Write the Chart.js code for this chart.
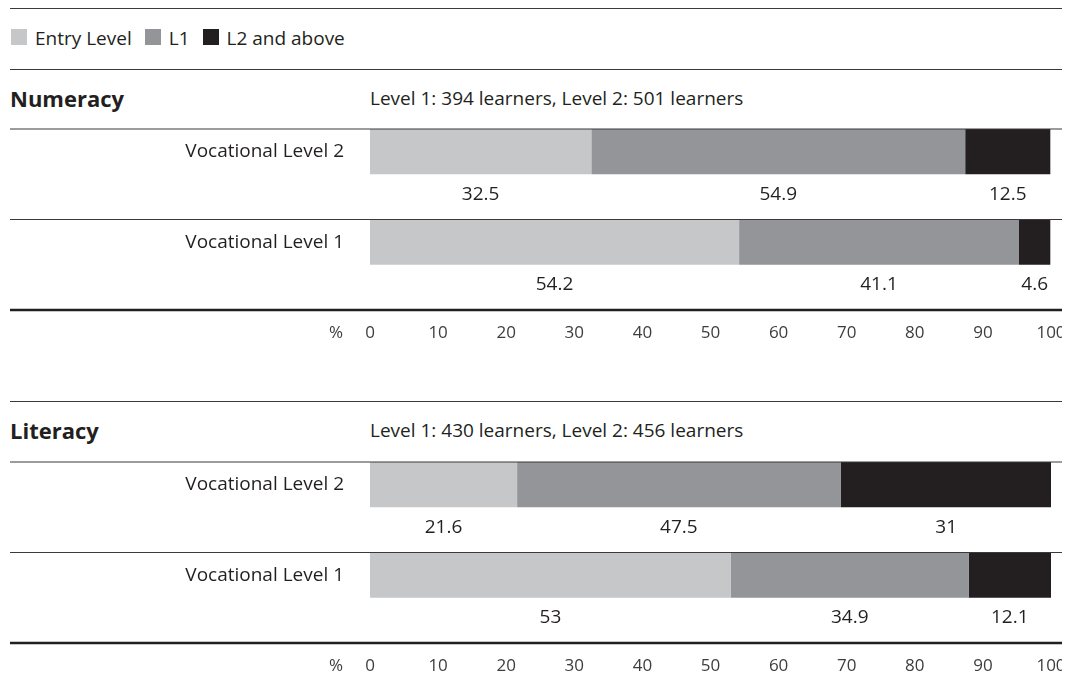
<!DOCTYPE html>
<html>
<head>
<meta charset="utf-8">
<script src="https://cdn.jsdelivr.net/npm/chart.js@4.4.0/dist/chart.umd.min.js"></script>
<style>
body { margin: 0; background: #fff; font-family: "Open Sans", sans-serif; color: #231f20; }
.page { position: relative; width: 1077px; height: 676px; overflow: hidden; }
.rule { position: absolute; left: 10px; width: 1052px; height: 0; border-top: 1px solid #3a3a3a; }
.legend { position: absolute; left: 11px; top: 28px; height: 20px; display: flex; align-items: center; font-size: 19px; line-height: 20px; }
.legend .item { display: flex; align-items: center; margin-right: 13px; }
.legend .box { width: 16px; height: 16px; display: inline-block; margin-right: 8px; position: relative; top: -1px; }
.title { position: absolute; left: 10px; font-size: 22px; font-weight: bold; line-height: 24px; }
.sub { position: absolute; left: 370px; font-size: 19px; line-height: 20px; }
.panel { position: absolute; left: 10px; width: 1052px; height: 223px; }
</style>
</head>
<body>
<div class="page">
  <div class="rule" style="top:8px"></div>
  <div class="legend" id="legend"></div>
  <div class="rule" style="top:69px"></div>

  <div class="title" style="top:86px">Numeracy</div>
  <div class="sub" style="top:88px">Level 1: 394 learners, Level 2: 501 learners</div>
  <div class="panel" style="top:127px"><canvas id="numeracyChart"></canvas></div>

  <div class="rule" style="top:401px"></div>
  <div class="title" style="top:418px">Literacy</div>
  <div class="sub" style="top:420px">Level 1: 430 learners, Level 2: 456 learners</div>
  <div class="panel" style="top:460px"><canvas id="literacyChart"></canvas></div>
</div>

<script>
// Data (% of learners)
const rowLabels = ['Vocational Level 2', 'Vocational Level 1'];
const seriesNames = ['Entry Level', 'L1', 'L2 and above'];
const seriesColors = ['#c6c7c9', '#939598', '#231f20'];
const xTicks = [0, 10, 20, 30, 40, 50, 60, 70, 80, 90, 100];

const numeracyEntry = [32.5, 54.2];
const numeracyL1 = [54.9, 41.1];
const numeracyL2 = [12.5, 4.6];

const literacyEntry = [21.6, 53];
const literacyL1 = [47.5, 34.9];
const literacyL2 = [31, 12.1];

const FONT = '"Open Sans", sans-serif';

// legend built from the series
document.getElementById('legend').innerHTML = seriesNames.map((name, i) =>
    `<span class="item"><span class="box" style="background:${seriesColors[i]}"></span>${name}</span>`
).join('');

// row rules, axis rule, value labels and the % sign
const panelDecor = {
    id: 'panelDecor',
    afterDatasetsDraw(chart) {
        const { ctx, scales: { x, y } } = chart;
        const w = chart.width;
        ctx.save();

        function rule(py, lw, color) {
            ctx.beginPath();
            ctx.lineWidth = lw;
            ctx.strokeStyle = color;
            ctx.moveTo(0, py);
            ctx.lineTo(w, py);
            ctx.stroke();
        }
        rowLabels.forEach((_, i) => rule(y.getPixelForValue(i), 1.2, '#3a3a3a'));
        rule(y.getPixelForValue(rowLabels.length), 2.5, '#231f20');

        ctx.fillStyle = '#231f20';
        ctx.font = '19px ' + FONT;
        ctx.textAlign = 'center';
        ctx.textBaseline = 'middle';
        chart.data.datasets.forEach((ds, d) => {
            chart.getDatasetMeta(d).data.forEach((bar, i) => {
                const cx = (bar.x + bar.base) / 2;
                ctx.fillText(String(ds.data[i].x), cx, y.getPixelForValue(i + 0.72));
            });
        });

        ctx.fillStyle = '#3d3d3d';
        ctx.font = '17px ' + FONT;
        ctx.fillText('%', x.left - 34, x.top + 23);
        ctx.restore();
    }
};

function makePanel(canvasId, entry, l1, l2) {
    const series = [entry, l1, l2];
    return new Chart(document.getElementById(canvasId), {
        type: 'bar',
        data: {
            datasets: series.map((vals, s) => ({
                label: seriesNames[s],
                data: vals.map((v, i) => ({ x: v, y: i + 0.25 })),
                backgroundColor: seriesColors[s],
                borderWidth: 0,
                stack: 'row',
                barPercentage: 0.5,
                categoryPercentage: 1
            }))
        },
        options: {
            indexAxis: 'y',
            responsive: true,
            maintainAspectRatio: false,
            animation: false,
            layout: { padding: { top: 2, right: 11, left: 0, bottom: 0 } },
            plugins: {
                legend: { display: false },
                tooltip: { enabled: false }
            },
            scales: {
                x: {
                    type: 'linear',
                    min: 0,
                    max: 100,
                    stacked: true,
                    grid: { display: false, drawTicks: false },
                    border: { display: false },
                    afterBuildTicks: s => { s.ticks = xTicks.map(v => ({ value: v })); },
                    ticks: {
                        padding: 13,
                        color: '#3d3d3d',
                        autoSkip: false,
                        maxRotation: 0,
                        font: { family: FONT, size: 17 }
                    },
                    afterFit: s => { s.height = 40; s.paddingLeft = 0; s.paddingRight = 0; }
                },
                y: {
                    type: 'linear',
                    min: 0,
                    max: 2,
                    reverse: true,
                    offset: false,
                    grid: { display: false, drawTicks: false },
                    border: { display: false },
                    afterBuildTicks: s => { s.ticks = rowLabels.map((_, i) => ({ value: i + 0.25 })); },
                    ticks: {
                        padding: 26,
                        color: '#231f20',
                        font: { family: FONT, size: 19 },
                        callback: (v, i) => rowLabels[i]
                    },
                    afterFit: s => { s.width = 360; s.paddingTop = 0; s.paddingBottom = 0; }
                }
            }
        },
        plugins: [panelDecor]
    });
}

makePanel('numeracyChart', numeracyEntry, numeracyL1, numeracyL2);
makePanel('literacyChart', literacyEntry, literacyL1, literacyL2);
</script>
</body>
</html>
